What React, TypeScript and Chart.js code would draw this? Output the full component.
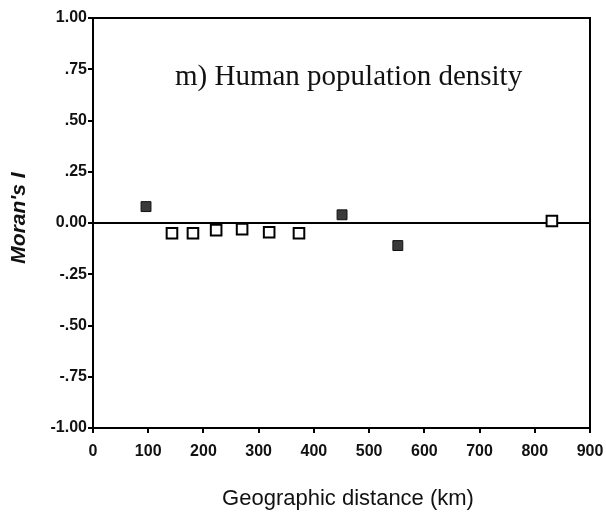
import React, { useEffect, useRef } from "react";
import { Chart, registerables } from "chart.js";

Chart.register(...registerables);

// Distance classes (km) and Moran's I correlogram values
const significantDistance = [96, 451, 552];
const significantMoranI = [0.08, 0.04, -0.11];
const nonSignificantDistance = [143, 181, 223, 270, 319, 373, 831];
const nonSignificantMoranI = [-0.05, -0.05, -0.035, -0.03, -0.045, -0.05, 0.01];

// Reference line at I = 0
const referenceDistance = [0, 900];
const referenceMoranI = [0, 0];

const yTickValues = [1, 0.75, 0.5, 0.25, 0, -0.25, -0.5, -0.75, -1];
const yTickLabels = [
  "1.00", ".75", ".50", ".25", "0.00", "-.25", "-.50", "-.75", "-1.00",
];

const panelTitle = "m) Human population density";
const xTitle = "Geographic distance (km)";
const yTitle = "Moran's I";

const tickFont = { family: "Liberation Sans, Arial, sans-serif", size: 16, weight: "bold" as const };

const framePlugin = {
  id: "frame",
  afterDraw(chart: any) {
    const { ctx, chartArea } = chart;
    const { left, right, top, bottom } = chartArea;
    ctx.save();
    ctx.strokeStyle = "#000";
    ctx.lineWidth = 2;
    ctx.beginPath();
    ctx.moveTo(left, top);
    ctx.lineTo(right, top);
    ctx.lineTo(right, bottom);
    ctx.stroke();

    // Panel title inside the plot
    ctx.fillStyle = "#111";
    ctx.font = "29px 'Liberation Serif', 'Times New Roman', serif";
    ctx.textAlign = "left";
    ctx.textBaseline = "alphabetic";
    ctx.fillText(panelTitle, 175, 85);

    // X axis title
    ctx.font = "22px 'Liberation Sans', Arial, sans-serif";
    ctx.textAlign = "center";
    ctx.fillText(xTitle, 348, 505);

    // Y axis title
    ctx.translate(19, 218);
    ctx.rotate(-Math.PI / 2);
    ctx.font = "italic bold 21px 'Liberation Sans', Arial, sans-serif";
    ctx.textAlign = "center";
    ctx.textBaseline = "middle";
    ctx.fillText(yTitle, 0, 0);
    ctx.restore();
  },
};

export default function App() {
  const canvasRef = useRef<HTMLCanvasElement | null>(null);

  useEffect(() => {
    if (!canvasRef.current) return;
    const toPoints = (xs: number[], ys: number[]) =>
      xs.map((x, i) => ({ x, y: ys[i] }));

    const chart = new Chart(canvasRef.current, {
      type: "scatter",
      data: {
        datasets: [
          {
            type: "line",
            data: toPoints(referenceDistance, referenceMoranI),
            borderColor: "#000",
            borderWidth: 2,
            pointRadius: 0,
            order: 3,
          },
          {
            data: toPoints(nonSignificantDistance, nonSignificantMoranI),
            pointStyle: "rect",
            pointRadius: 7.5,
            backgroundColor: "#fff",
            borderColor: "#000",
            borderWidth: 2,
            order: 1,
          },
          {
            data: toPoints(significantDistance, significantMoranI),
            pointStyle: "rect",
            pointRadius: 7,
            backgroundColor: "#3a3a3a",
            borderColor: "#111",
            borderWidth: 1,
            order: 0,
          },
        ] as any,
      },
      options: {
        animation: false,
        responsive: true,
        maintainAspectRatio: false,
        layout: { padding: { top: 18, right: 16, left: 0, bottom: 0 } },
        plugins: {
          legend: { display: false },
          tooltip: { enabled: false },
          title: { display: false },
        },
        scales: {
          x: {
            type: "linear",
            min: 0,
            max: 900,
            ticks: {
              stepSize: 100,
              color: "#111",
              font: tickFont,
              padding: 9,
              maxRotation: 0,
            },
            grid: {
              display: true,
              drawOnChartArea: false,
              drawTicks: true,
              tickLength: 5,
              color: "#000",
              lineWidth: 2,
            },
            border: { display: true, color: "#000", width: 2 },
            afterFit(scale: any) {
              scale.height = 88;
              scale.paddingLeft = 0;
              scale.paddingRight = 0;
            },
          },
          y: {
            type: "linear",
            min: -1,
            max: 1,
            ticks: {
              stepSize: 0.25,
              color: "#111",
              font: tickFont,
              padding: 1,
              callback: (value: any) => {
                const i = yTickValues.findIndex((v) => Math.abs(v - Number(value)) < 1e-6);
                return i >= 0 ? yTickLabels[i] : "";
              },
            },
            grid: {
              display: true,
              drawOnChartArea: false,
              drawTicks: true,
              tickLength: 5,
              color: "#000",
              lineWidth: 2,
            },
            border: { display: true, color: "#000", width: 2 },
            afterFit(scale: any) {
              scale.width = 93;
              scale.paddingTop = 0;
              scale.paddingBottom = 0;
            },
          },
        },
      },
      plugins: [framePlugin],
    });

    return () => chart.destroy();
  }, []);

  return (
    <div
      style={{
        position: "fixed",
        left: 0,
        top: 0,
        width: 606,
        height: 516,
        background: "#fff",
      }}
    >
      <canvas ref={canvasRef} />
    </div>
  );
}
